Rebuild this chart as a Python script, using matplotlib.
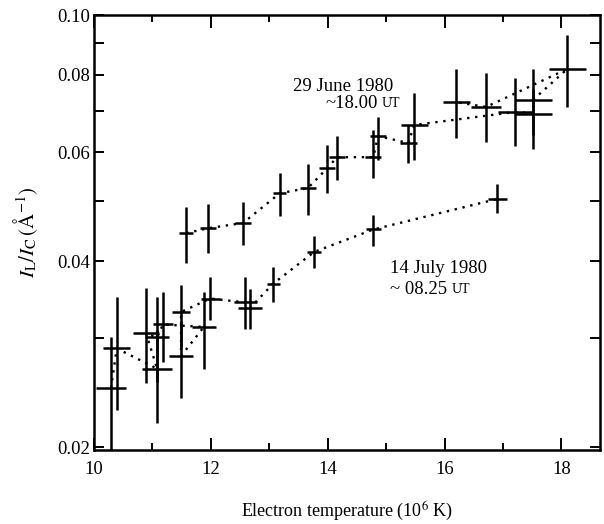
import matplotlib
matplotlib.use("Agg")
import matplotlib.pyplot as plt
from matplotlib.ticker import FixedLocator, NullFormatter, FixedFormatter
import numpy as np

plt.rcParams['font.family'] = ['Liberation Serif', 'DejaVu Serif']
plt.rcParams['mathtext.fontset'] = 'stix'

# 29 June 1980 (points listed in the order the dotted line joins them)
june_T   = [11.58, 11.95, 12.55, 13.18, 13.66, 13.99, 14.16, 14.78, 14.86, 15.38, 15.48, 17.21, 17.52, 17.52, 18.10, 16.71, 16.20]
june_val = [0.0444, 0.0452, 0.0461, 0.0515, 0.0525, 0.0565, 0.0589, 0.0589, 0.0637, 0.0621, 0.0664, 0.0697, 0.0693, 0.0730, 0.0818, 0.0710, 0.0723]
june_lo  = [0.0397, 0.0412, 0.0424, 0.0473, 0.0475, 0.0515, 0.0541, 0.0545, 0.0583, 0.0576, 0.0583, 0.0614, 0.0607, 0.0640, 0.0710, 0.0623, 0.0632]
june_hi  = [0.0489, 0.0495, 0.0498, 0.0555, 0.0574, 0.0616, 0.0637, 0.0651, 0.0684, 0.0664, 0.0748, 0.0791, 0.0760, 0.0818, 0.0928, 0.0806, 0.0818]
june_dT  = [0.12, 0.14, 0.13, 0.11, 0.14, 0.14, 0.14, 0.14, 0.14, 0.14, 0.23, 0.30, 0.32, 0.32, 0.32, 0.26, 0.23]

# 14 July 1980 (points listed in the order the dotted line joins them)
july_T   = [10.29, 10.39, 11.08, 10.89, 11.08, 11.18, 11.88, 11.49, 11.49, 11.99, 12.59, 12.67, 13.07, 13.77, 14.78, 16.90]
july_val = [0.0249, 0.0289, 0.0268, 0.0306, 0.0301, 0.0316, 0.0313, 0.0281, 0.0331, 0.0348, 0.0343, 0.0336, 0.0368, 0.0414, 0.0450, 0.0504]
july_lo  = [0.0198, 0.0230, 0.0219, 0.0254, 0.0255, 0.0275, 0.0268, 0.0240, 0.0290, 0.0321, 0.0311, 0.0311, 0.0343, 0.0390, 0.0423, 0.0478]
july_hi  = [0.0301, 0.0350, 0.0310, 0.0362, 0.0350, 0.0356, 0.0356, 0.0320, 0.0366, 0.0377, 0.0377, 0.0360, 0.0391, 0.0439, 0.0475, 0.0533]
july_dT  = [0.25, 0.23, 0.25, 0.22, 0.21, 0.17, 0.20, 0.21, 0.15, 0.16, 0.20, 0.20, 0.11, 0.12, 0.13, 0.16]

y_ticks = [0.02, 0.03, 0.04, 0.05, 0.06, 0.07, 0.08, 0.09, 0.10]
y_labels = ['0.02', '', '0.04', '', '0.06', '', '0.08', '', '0.10']
x_major = [10, 12, 14, 16, 18]
x_minor = [11, 13, 15, 17]

fig = plt.figure(figsize=(6.04, 5.24), dpi=100)
ax = fig.add_axes([94/604, 1-450/524, 506/604, 435/524])

for T, v, lo, hi, dT in [(june_T, june_val, june_lo, june_hi, june_dT),
                         (july_T, july_val, july_lo, july_hi, july_dT)]:
    v = np.array(v)
    yerr = np.vstack([v - np.array(lo), np.array(hi) - v])
    ax.errorbar(T, v, xerr=dT, yerr=yerr, fmt='none', ecolor='black',
                elinewidth=1.8, capsize=0)
    ax.plot(T, v, color='black', linestyle=(0, (1, 2.4)), linewidth=1.7)

ax.set_yscale('log')
ax.set_xlim(10, 18.66)
ax.set_ylim(0.0198, 0.10)

ax.yaxis.set_major_locator(FixedLocator(y_ticks))
ax.yaxis.set_major_formatter(FixedFormatter(y_labels))
ax.yaxis.set_minor_locator(FixedLocator([]))
ax.yaxis.set_minor_formatter(NullFormatter())
ax.xaxis.set_major_locator(FixedLocator(x_major))
ax.xaxis.set_minor_locator(FixedLocator(x_minor))

ax.tick_params(axis='both', which='both', direction='in', top=True, right=True,
               labelsize=13.5, colors='black')
ax.tick_params(axis='x', which='major', length=9, width=1.4, pad=8)
ax.tick_params(axis='x', which='minor', length=5, width=1.4)
ax.tick_params(axis='y', which='major', length=7, width=1.4, pad=3)
for s in ax.spines.values():
    s.set_linewidth(1.8)

ax.set_xlabel('Electron temperature (10$^6$ K)', fontsize=13, labelpad=16)
ax.set_ylabel(r'$I_{\mathrm{L}}/I_{\mathrm{C}}\,(\mathrm{\AA}^{-1})$', fontsize=15, labelpad=12)

ax.text(14.26, 0.0765, '29 June 1980', fontsize=13.5, ha='center', va='center')
ax.text(14.85, 0.0718, '~18.00', fontsize=13.5, ha='right', va='center')
ax.text(14.92, 0.0718, 'UT', fontsize=10, ha='left', va='center')
ax.text(15.89, 0.0389, '14 July 1980', fontsize=13.5, ha='center', va='center')
ax.text(16.05, 0.0360, '~ 08.25', fontsize=13.5, ha='right', va='center')
ax.text(16.12, 0.0360, 'UT', fontsize=10, ha='left', va='center')

fig.savefig('out.png', dpi=100)
